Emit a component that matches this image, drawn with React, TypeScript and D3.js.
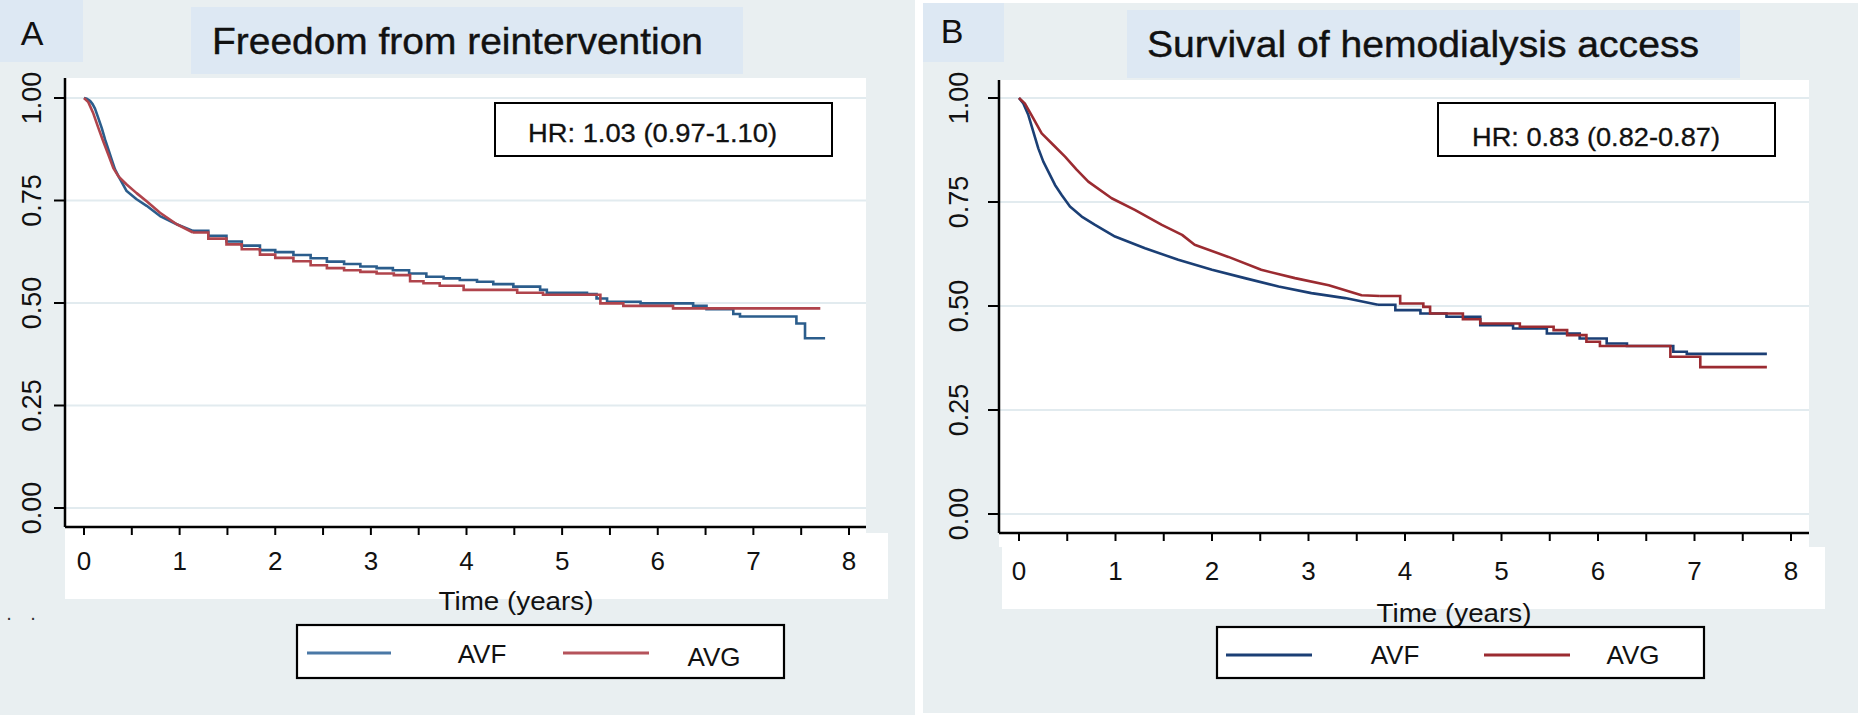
import React from 'react';
import * as d3 from 'd3';

// ---------- data ----------
const timeTicks = [0, 1, 2, 3, 4, 5, 6, 7, 8];
const survTicks = [0, 0.25, 0.5, 0.75, 1];
const survTickLabels = ['0.00', '0.25', '0.50', '0.75', '1.00'];
const seriesNames = ['AVF', 'AVG'];
const panelLetters = ['A', 'B'];
const panelTitles = ['Freedom from reintervention', 'Survival of hemodialysis access'];
const hazardRatios = ['HR: 1.03 (0.97-1.10)', 'HR: 0.83 (0.82-0.87)'];
const xAxisTitle = 'Time (years)';

// Panel A — freedom from reintervention [years, survival]
const reinterventionAVF: [number, number][] = [
  [0, 1.0], [0.03, 0.998], [0.063, 0.993], [0.09, 0.985], [0.115, 0.974], [0.15, 0.951], [0.185, 0.927], [0.22, 0.899],
  [0.254, 0.875], [0.289, 0.85], [0.324, 0.826], [0.377, 0.802], [0.446, 0.773], [0.55, 0.753],
  [0.655, 0.737], [0.795, 0.712], [0.969, 0.692], [1.14, 0.676], [1.3, 0.664], [1.49, 0.65], [1.65, 0.64], [1.84, 0.629],
  [2.0, 0.624], [2.19, 0.617], [2.37, 0.609], [2.54, 0.601], [2.72, 0.595], [2.89, 0.589], [3.06, 0.585], [3.23, 0.58],
  [3.4, 0.572], [3.58, 0.564], [3.76, 0.56], [3.93, 0.556], [4.11, 0.552],
  [4.28, 0.546], [4.49, 0.54], [4.77, 0.532], [4.84, 0.525], [5.26, 0.522], [5.36, 0.511], [5.47, 0.503],
  [5.82, 0.499], [6.37, 0.493], [6.51, 0.485], [6.79, 0.473], [6.86, 0.467], [7.45, 0.45],
  [7.54, 0.414], [7.75, 0.414],
];
const reinterventionAVG: [number, number][] = [
  [0, 1.0], [0.045, 0.99], [0.098, 0.962], [0.15, 0.927], [0.202, 0.894], [0.254, 0.862],
  [0.307, 0.829], [0.36, 0.809], [0.446, 0.789], [0.55, 0.768], [0.655, 0.748], [0.795, 0.72],
  [0.97, 0.692], [1.14, 0.672], [1.3, 0.657], [1.49, 0.643], [1.65, 0.631], [1.84, 0.618], [2.0, 0.61], [2.19, 0.602],
  [2.37, 0.592], [2.54, 0.585], [2.72, 0.58], [2.89, 0.576], [3.06, 0.572], [3.24, 0.568], [3.41, 0.553],
  [3.55, 0.548], [3.72, 0.542], [3.97, 0.532], [4.53, 0.525],
  [4.8, 0.52], [5.4, 0.499], [5.64, 0.493], [6.16, 0.487], [7.7, 0.487],
];

// Panel B — survival of hemodialysis access [years, survival]
const accessAVF: [number, number][] = [
  [0, 1.0], [0.045, 0.987], [0.097, 0.959], [0.148, 0.919], [0.2, 0.879], [0.252, 0.847],
  [0.304, 0.823], [0.373, 0.791], [0.442, 0.767], [0.528, 0.739], [0.65, 0.715], [0.788, 0.695],
  [0.995, 0.667], [1.306, 0.639], [1.65, 0.611], [2.0, 0.587], [2.34, 0.567], [2.69, 0.547],
  [3.03, 0.531], [3.38, 0.519], [3.72, 0.503], [3.9, 0.49], [4.16, 0.482], [4.43, 0.474],
  [4.78, 0.454], [5.12, 0.446], [5.47, 0.434], [5.81, 0.422], [6.09, 0.41], [6.3, 0.404],
  [6.78, 0.39], [6.92, 0.385], [7.75, 0.385],
];
const accessAVG: [number, number][] = [
  [0, 1.0], [0.06, 0.987], [0.131, 0.958], [0.235, 0.915], [0.356, 0.887], [0.477, 0.859],
  [0.597, 0.828], [0.718, 0.799], [0.96, 0.759], [1.2, 0.731], [1.48, 0.695], [1.69, 0.671],
  [1.82, 0.647], [2.17, 0.618], [2.51, 0.587], [2.86, 0.567], [3.21, 0.55], [3.55, 0.526],
  [3.74, 0.524], [3.95, 0.506], [4.19, 0.498], [4.26, 0.482], [4.6, 0.468], [4.78, 0.458],
  [5.19, 0.45], [5.54, 0.442], [5.68, 0.43], [5.88, 0.414], [6.02, 0.404], [6.75, 0.378],
  [7.06, 0.353], [7.75, 0.353],
];

// ---------- layout ----------
const BG = '#e9eff1';
const TITLE_BG = '#dde8f3';
const SANS = '"Liberation Sans", Arial, Helvetica, sans-serif';
const NARROW = '"Liberation Sans Narrow", "Liberation Sans", Arial, sans-serif';

const panels = [
  {
    letter: panelLetters[0], title: panelTitles[0], hr: hazardRatios[0],
    series: [reinterventionAVF, reinterventionAVG], linearUntil: 1.15,
    colors: ['#2b5d8c', '#b0444c'], legendColors: ['#4a78a6', '#b5535b'],
    bg: [0, 0, 915, 715], letterBox: [0, 0, 83, 62], letterPos: [32, 45],
    titleBox: [191, 7, 552, 67], titlePos: [457.5, 54], titleLen: 491,
    plotL: 65, plotT: 78, plotR: 866, axisY: 527, whiteB: 533,
    band: [65, 533, 823, 66],
    xr: [84, 849], yr: [508, 98],
    tickLabelY: 570, yLabelX: 41, xTitle: [516, 610],
    legend: [297, 625, 487, 53],
    legLines: [[307, 391, 653], [563, 649, 653]], legText: [[482, 663], [714, 666]],
    hrBox: [495, 103, 337, 53], hrPos: [652.5, 142], hrLen: 249,
    dots: true,
  },
  {
    letter: panelLetters[1], title: panelTitles[1], hr: hazardRatios[1],
    series: [accessAVF, accessAVG], linearUntil: 3.75,
    colors: ['#1b3f75', '#9b2b31'], legendColors: ['#1b3f75', '#9b2b31'],
    bg: [923, 3, 935, 710], letterBox: [923, 3, 81, 59], letterPos: [952, 43],
    titleBox: [1127, 10, 613, 68], titlePos: [1423, 57], titleLen: 552,
    plotL: 999, plotT: 80, plotR: 1809, axisY: 533, whiteB: 547,
    band: [1002, 547, 823, 62],
    xr: [1019, 1791], yr: [514, 98],
    tickLabelY: 580, yLabelX: 968, xTitle: [1454, 622],
    legend: [1217, 627, 487, 51],
    legLines: [[1226, 1312, 655], [1484, 1570, 655]], legText: [[1395, 664], [1633, 664]],
    hrBox: [1438, 103, 337, 53], hrPos: [1596, 146], hrLen: 248,
    dots: false,
  },
];

function Panel({ p }: { p: any }) {
  const x = d3.scaleLinear().domain([0, 8]).range(p.xr);
  const y = d3.scaleLinear().domain([0, 1]).range(p.yr);
  const smooth = d3.line<[number, number]>().x(d => x(d[0])).y(d => y(d[1])).curve(d3.curveLinear);
  const steps = d3.line<[number, number]>().x(d => x(d[0])).y(d => y(d[1])).curve(d3.curveStepAfter);
  const minor = d3.range(0, 8.001, 0.5);
  return (
    <g>
      <rect x={p.bg[0]} y={p.bg[1]} width={p.bg[2]} height={p.bg[3]} fill={BG} />
      <rect x={p.letterBox[0]} y={p.letterBox[1]} width={p.letterBox[2]} height={p.letterBox[3]} fill={TITLE_BG} />
      <text x={p.letterPos[0]} y={p.letterPos[1]} textAnchor="middle" fontFamily={SANS} fontSize={34} fill="#111">{p.letter}</text>
      <rect x={p.titleBox[0]} y={p.titleBox[1]} width={p.titleBox[2]} height={p.titleBox[3]} fill={TITLE_BG} />
      <text x={p.titlePos[0]} y={p.titlePos[1]} textAnchor="middle" fontFamily={SANS} fontSize={36} fill="#111"
        stroke="#111" strokeWidth={0.4}
        textLength={p.titleLen} lengthAdjust="spacingAndGlyphs">{p.title}</text>

      {/* plot area */}
      <rect x={p.plotL} y={p.plotT} width={p.plotR - p.plotL} height={p.whiteB - p.plotT} fill="#fff" />
      <rect x={p.band[0]} y={p.band[1]} width={p.band[2]} height={p.band[3]} fill="#fff" />

      {survTicks.map(t => (
        <line key={'g' + t} x1={p.plotL} x2={p.plotR} y1={y(t)} y2={y(t)} stroke="#e2ebef" strokeWidth={2} />
      ))}

      {p.series.map((s: [number, number][], i: number) => {
        const head = s.filter(d => d[0] <= p.linearUntil);
        const tail = s.filter(d => d[0] >= head[head.length - 1][0]);
        return (
          <g key={'s' + i}>
            <path d={smooth(head) || ''} fill="none" stroke={p.colors[i]} strokeWidth={2.6} strokeLinejoin="round" />
            <path d={steps(tail) || ''} fill="none" stroke={p.colors[i]} strokeWidth={2.6} strokeLinejoin="miter" />
          </g>
        );
      })}

      {/* axes */}
      <line x1={p.plotL} x2={p.plotL} y1={p.plotT} y2={p.axisY} stroke="#000" strokeWidth={2.5} />
      <line x1={p.plotL} x2={p.plotR} y1={p.axisY} y2={p.axisY} stroke="#000" strokeWidth={2.5} />
      {survTicks.map((t, i) => (
        <g key={'yt' + t}>
          <line x1={p.plotL - 11} x2={p.plotL} y1={y(t)} y2={y(t)} stroke="#000" strokeWidth={2} />
          <text transform={`translate(${p.yLabelX},${y(t)}) rotate(-90)`} textAnchor="middle"
            fontFamily={SANS} fontSize={27} fill="#111">{survTickLabels[i]}</text>
        </g>
      ))}
      {minor.map(t => (
        <line key={'xt' + t} x1={x(t)} x2={x(t)} y1={p.axisY} y2={p.axisY + 8} stroke="#000" strokeWidth={2} />
      ))}
      {timeTicks.map(t => (
        <text key={'xl' + t} x={x(t)} y={p.tickLabelY} textAnchor="middle" fontFamily={SANS} fontSize={26} fill="#111">{t}</text>
      ))}
      <text x={p.xTitle[0]} y={p.xTitle[1]} textAnchor="middle" fontFamily={SANS} fontSize={26} fill="#111"
        textLength={155} lengthAdjust="spacingAndGlyphs">{xAxisTitle}</text>

      {/* HR box */}
      <rect x={p.hrBox[0]} y={p.hrBox[1]} width={p.hrBox[2]} height={p.hrBox[3]} fill="#fff" stroke="#000" strokeWidth={2} />
      <text x={p.hrPos[0]} y={p.hrPos[1]} textAnchor="middle" fontFamily={NARROW} fontSize={25} fill="#111"
        stroke="#111" strokeWidth={0.3}
        textLength={p.hrLen} lengthAdjust="spacingAndGlyphs">{p.hr}</text>

      {/* legend */}
      <rect x={p.legend[0]} y={p.legend[1]} width={p.legend[2]} height={p.legend[3]} fill="#fff" stroke="#000" strokeWidth={2.2} />
      {seriesNames.map((n, i) => (
        <g key={'lg' + n}>
          <line x1={p.legLines[i][0]} x2={p.legLines[i][1]} y1={p.legLines[i][2]} y2={p.legLines[i][2]}
            stroke={p.legendColors[i]} strokeWidth={3} />
          <text x={p.legText[i][0]} y={p.legText[i][1]} textAnchor="middle" fontFamily={SANS} fontSize={26} fill="#111">{n}</text>
        </g>
      ))}

      {p.dots && (
        <g>
          <text x={9} y={620} textAnchor="middle" fontFamily={SANS} fontSize={20} fill="#333">.</text>
          <text x={33} y={620} textAnchor="middle" fontFamily={SANS} fontSize={20} fill="#333">.</text>
        </g>
      )}
    </g>
  );
}

export default function App() {
  return (
    <svg width={1858} height={719} viewBox="0 0 1858 719"
      style={{ position: 'absolute', left: 0, top: 0, display: 'block', background: '#fff' }}>
      <rect x={0} y={0} width={1858} height={719} fill="#fff" />
      {panels.map((p, i) => <Panel key={i} p={p} />)}
    </svg>
  );
}
